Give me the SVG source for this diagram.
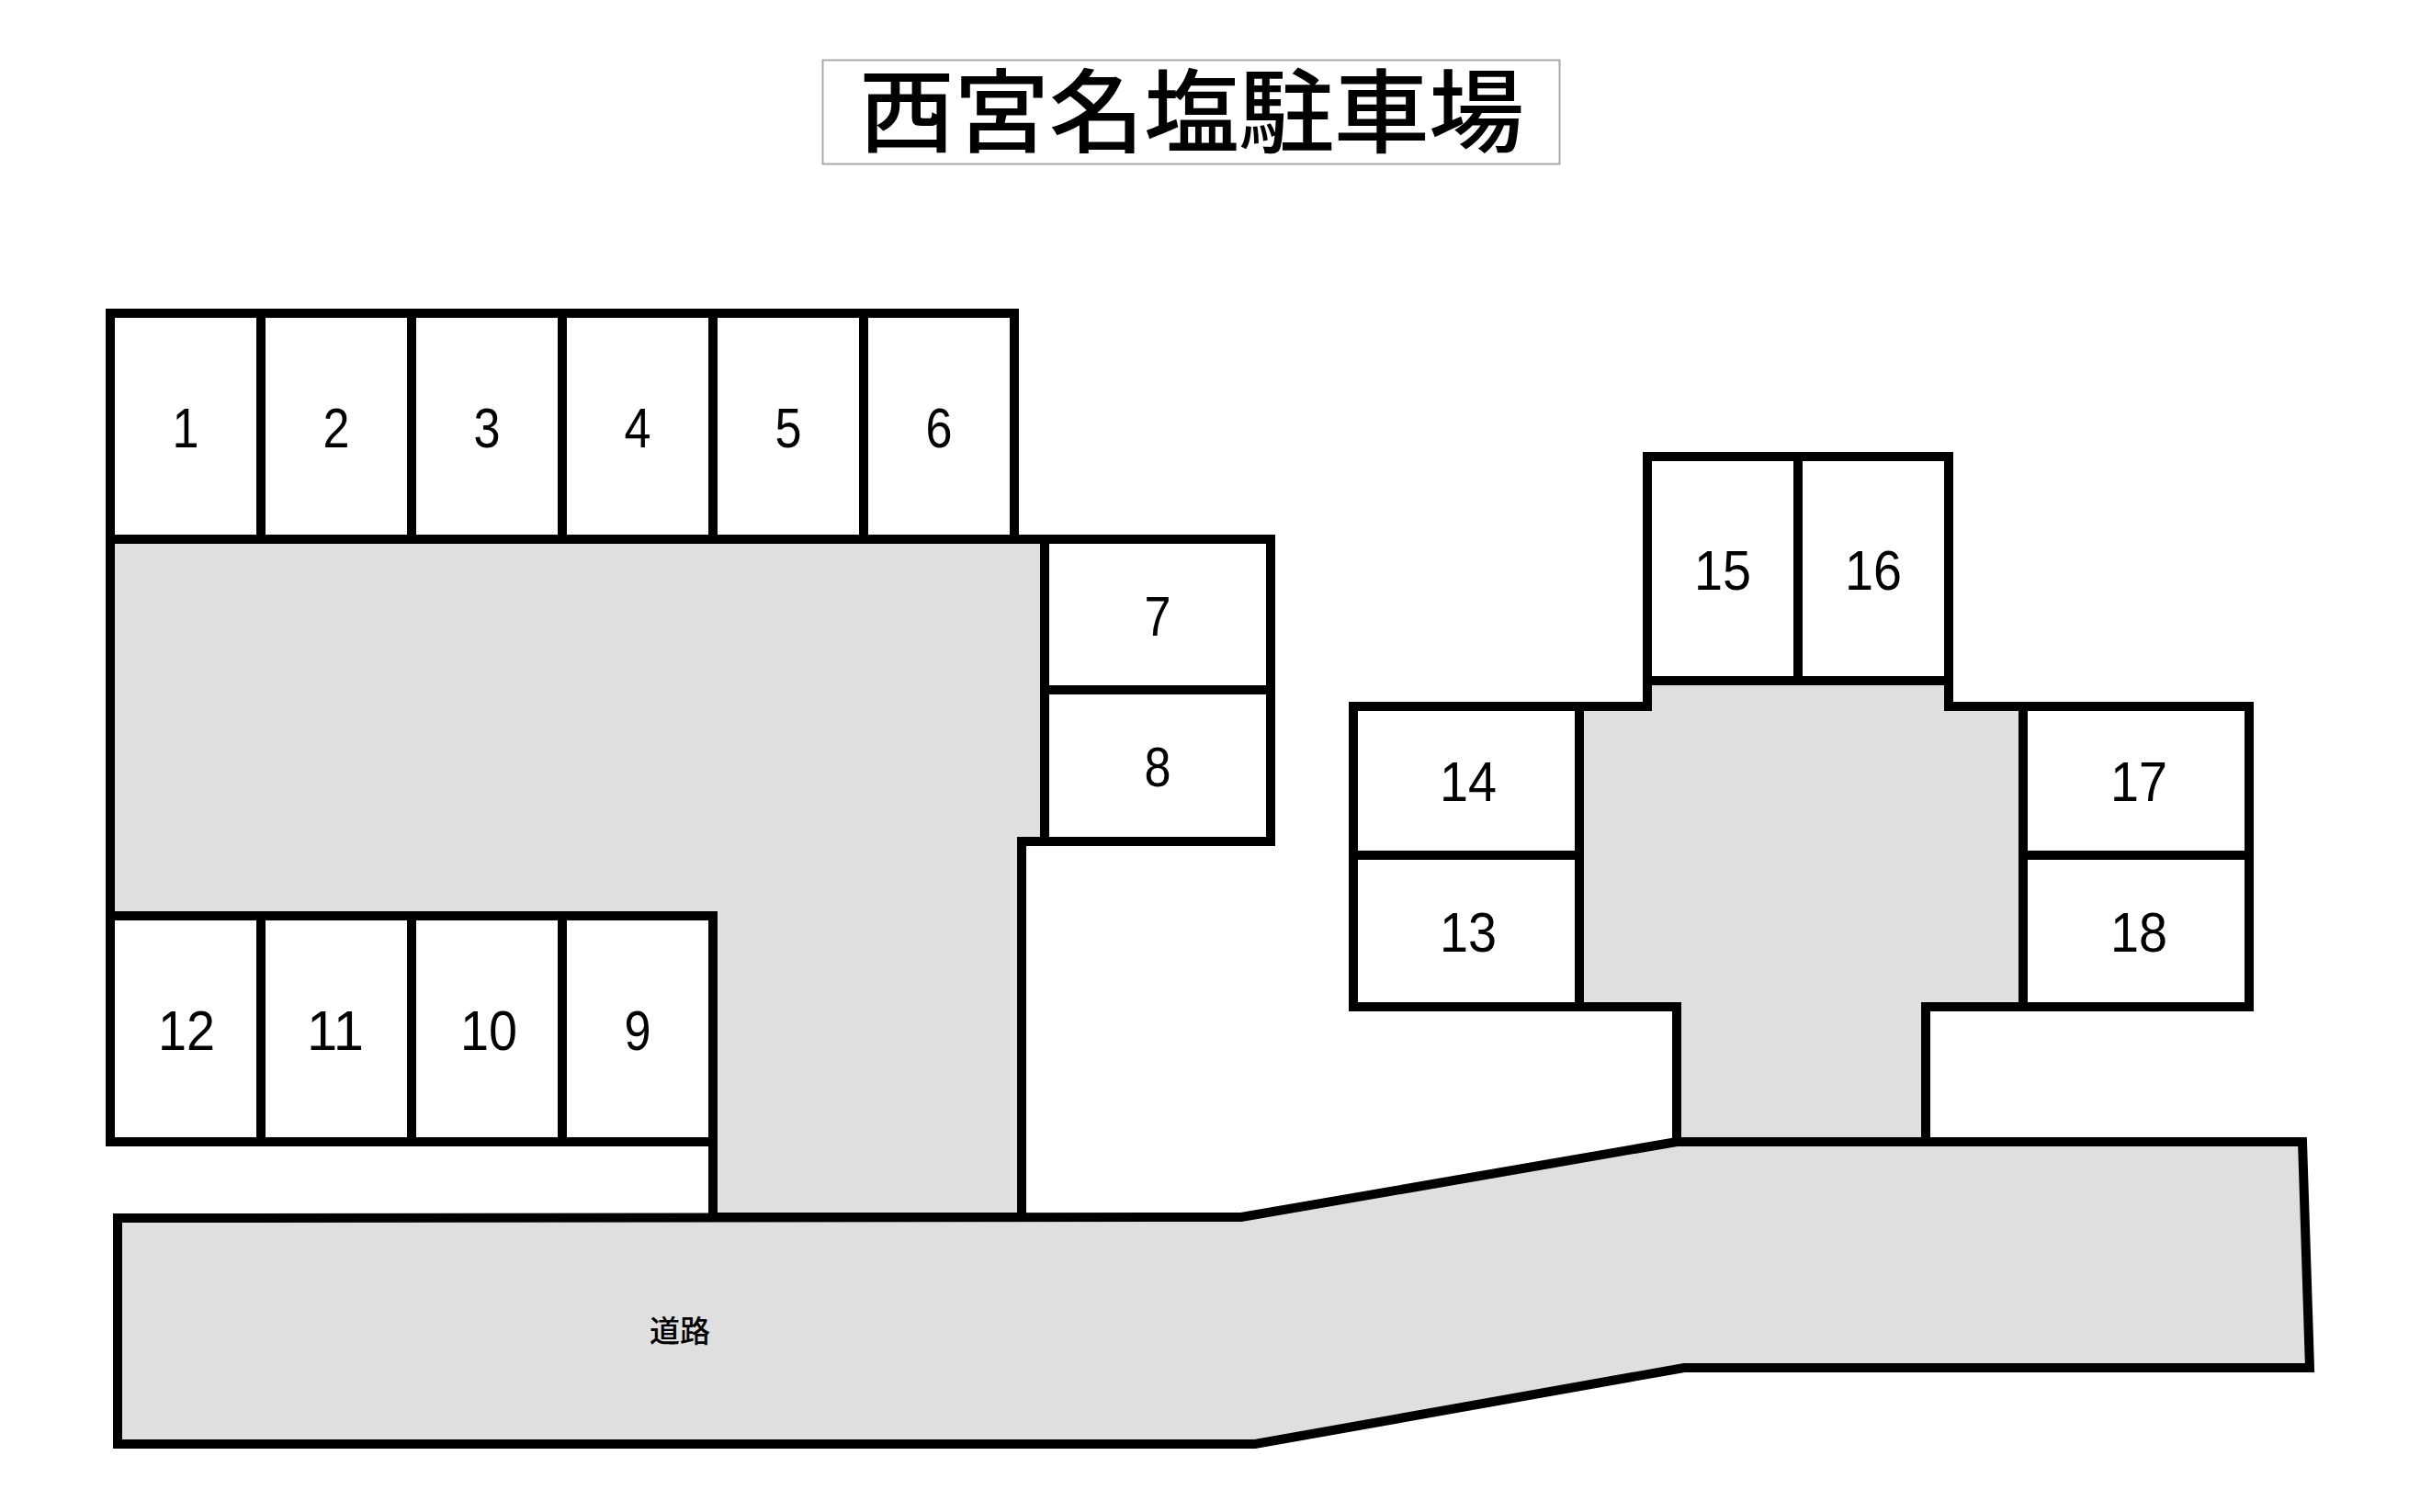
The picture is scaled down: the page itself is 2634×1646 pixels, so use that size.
<svg xmlns="http://www.w3.org/2000/svg" width="2634" height="1646" viewBox="0 0 2634 1646">
<style>
.a{fill:#dfdfdf;stroke:#000;stroke-width:10;stroke-miterlimit:10}
.s{fill:#fff;stroke:#000;stroke-width:10}
.n{font-family:"Liberation Sans",Arial,sans-serif;font-size:61px;fill:#000;text-anchor:middle}
.t{font-family:"Noto Sans CJK JP",sans-serif;fill:#000}
</style>
<rect width="2634" height="1646" fill="#fff"/>
<g id="title"><rect x="895.500" y="65.500" width="802" height="113" fill="#fff" stroke="#aaa" stroke-width="2"/>
<text class="t" transform="translate(935,158) scale(1,.95)" x="0" y="0" font-size="104" font-weight="500" textLength="724" lengthAdjust="spacing">西宮名塩駐車場</text></g>
<g id="areas">
<polygon id="road" class="a" points="128,1326 1351,1325 1825,1243 2506,1243 2514,1489 1833,1489 1366,1572 128,1572"/>
<polygon id="lot-west" class="a" points="120,587 1137,587 1137,916 1112,916 1112,1325 776,1325 776,997 120,997"/>
<polygon id="lot-east" class="a" points="1719,769 1793,769 1793,741 2121,741 2121,769 2202,769 2202,1096 2096,1096 2096,1243 1825,1243 1825,1096 1719,1096"/>
</g>
<g id="road-label"><text class="t" x="740" y="1461" font-size="33" font-weight="500" text-anchor="middle">道路</text></g>
<g id="slot-1"><rect class="s" x="120" y="341" width="164" height="246"/><text class="n" x="202" y="487" textLength="29" lengthAdjust="spacingAndGlyphs">1</text></g>
<g id="slot-2"><rect class="s" x="284" y="341" width="164" height="246"/><text class="n" x="366" y="487" textLength="29" lengthAdjust="spacingAndGlyphs">2</text></g>
<g id="slot-3"><rect class="s" x="448" y="341" width="164" height="246"/><text class="n" x="530" y="487" textLength="29" lengthAdjust="spacingAndGlyphs">3</text></g>
<g id="slot-4"><rect class="s" x="612" y="341" width="164" height="246"/><text class="n" x="694" y="487" textLength="29" lengthAdjust="spacingAndGlyphs">4</text></g>
<g id="slot-5"><rect class="s" x="776" y="341" width="164" height="246"/><text class="n" x="858" y="487" textLength="29" lengthAdjust="spacingAndGlyphs">5</text></g>
<g id="slot-6"><rect class="s" x="940" y="341" width="164" height="246"/><text class="n" x="1022" y="487" textLength="29" lengthAdjust="spacingAndGlyphs">6</text></g>
<g id="slot-7"><rect class="s" x="1137" y="587" width="246" height="164"/><text class="n" x="1260" y="692" textLength="29" lengthAdjust="spacingAndGlyphs">7</text></g>
<g id="slot-8"><rect class="s" x="1137" y="751" width="246" height="165"/><text class="n" x="1260" y="856" textLength="29" lengthAdjust="spacingAndGlyphs">8</text></g>
<g id="slot-9"><rect class="s" x="612" y="997" width="164" height="246"/><text class="n" x="694" y="1143" textLength="29" lengthAdjust="spacingAndGlyphs">9</text></g>
<g id="slot-10"><rect class="s" x="448" y="997" width="164" height="246"/><text class="n" x="532" y="1143" textLength="62" lengthAdjust="spacingAndGlyphs">10</text></g>
<g id="slot-11"><rect class="s" x="284" y="997" width="164" height="246"/><text class="n" x="365" y="1143" textLength="62" lengthAdjust="spacingAndGlyphs">11</text></g>
<g id="slot-12"><rect class="s" x="120" y="997" width="164" height="246"/><text class="n" x="203" y="1143" textLength="62" lengthAdjust="spacingAndGlyphs">12</text></g>
<g id="slot-13"><rect class="s" x="1473" y="931" width="246" height="165"/><text class="n" x="1598" y="1036" textLength="62" lengthAdjust="spacingAndGlyphs">13</text></g>
<g id="slot-14"><rect class="s" x="1473" y="769" width="246" height="162"/><text class="n" x="1598" y="872" textLength="62" lengthAdjust="spacingAndGlyphs">14</text></g>
<g id="slot-15"><rect class="s" x="1793" y="497" width="164" height="244"/><text class="n" x="1875" y="642" textLength="62" lengthAdjust="spacingAndGlyphs">15</text></g>
<g id="slot-16"><rect class="s" x="1957" y="497" width="164" height="244"/><text class="n" x="2039" y="642" textLength="62" lengthAdjust="spacingAndGlyphs">16</text></g>
<g id="slot-17"><rect class="s" x="2202" y="769" width="246" height="162"/><text class="n" x="2328" y="872" textLength="62" lengthAdjust="spacingAndGlyphs">17</text></g>
<g id="slot-18"><rect class="s" x="2202" y="931" width="246" height="165"/><text class="n" x="2328" y="1036" textLength="62" lengthAdjust="spacingAndGlyphs">18</text></g>
</svg>
